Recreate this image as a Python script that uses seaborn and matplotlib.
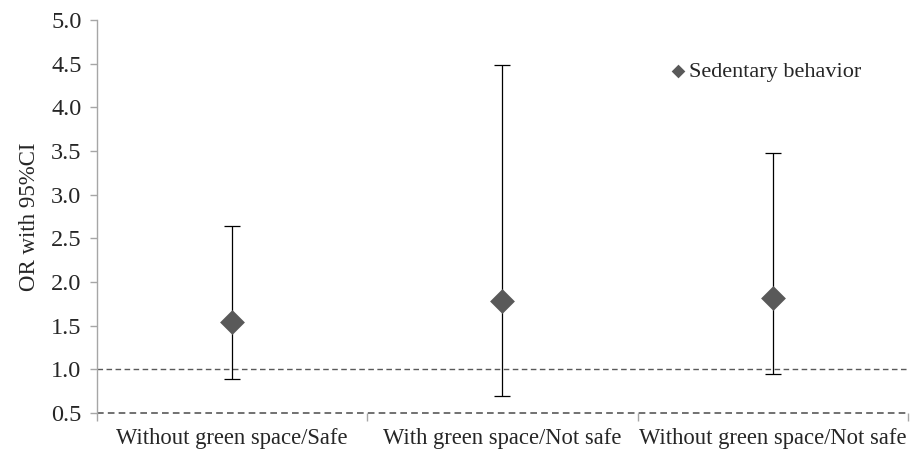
import matplotlib
matplotlib.use("Agg")
import matplotlib.pyplot as plt
import seaborn as sns
import pandas as pd
import numpy as np

categories = ["Without green space/Safe", "With green space/Not safe", "Without green space/Not safe"]
odds_ratio = [1.54, 1.78, 1.82]
ci_lower = [0.89, 0.70, 0.95]
ci_upper = [2.64, 4.49, 3.48]
series_name = "Sedentary behavior"
y_ticks = [0.5, 1.0, 1.5, 2.0, 2.5, 3.0, 3.5, 4.0, 4.5, 5.0]

sns.set_theme(style="white")
plt.rcParams['font.family'] = ['Liberation Serif', 'DejaVu Serif']

df = pd.DataFrame({"cat": categories, "OR": odds_ratio, "lo": ci_lower, "hi": ci_upper})

fig = plt.figure(figsize=(9.13, 4.58), dpi=100)
ax = fig.add_axes([0.106, 0.098, 0.8885, 0.858])

pos = np.arange(len(categories))
ax.errorbar(pos, df["OR"], yerr=[df["OR"] - df["lo"], df["hi"] - df["OR"]],
            fmt="none", ecolor="black", elinewidth=0.9, capsize=6, capthick=0.9, zorder=2)
sns.scatterplot(data=df, x="cat", y="OR", marker="D", s=160, color="#595959",
                edgecolor="#595959", linewidth=0, ax=ax, zorder=3, label=series_name)

ax.axhline(1.0, color="#595959", linestyle=(0, (4, 2.5)), linewidth=1.0, zorder=1)
ax.axhline(0.5, color="#595959", linestyle=(0, (4, 2.5)), linewidth=1.2, zorder=1, clip_on=False)

ax.set_xlim(-0.5, len(categories) - 0.5)
ax.set_ylim(0.5, 5.0)
ax.set_yticks(y_ticks)
ax.set_yticklabels([f"{v:.1f}" for v in y_ticks])
ax.set_xticks(pos)
ax.set_xticklabels(categories)
ax.set_xticks(np.arange(-0.5, len(categories), 1.0), minor=True)
ax.tick_params(axis="x", which="major", length=0, pad=11, labelsize=16.3, colors="#262626")
ax.tick_params(axis="x", which="minor", length=6, width=1, color="#a6a6a6", direction="out", bottom=True)
ax.tick_params(axis="y", which="major", length=5, width=1, color="#a6a6a6", direction="out",
               labelsize=17.5, labelcolor="#262626", left=True, pad=6)

for side in ["top", "right", "bottom"]:
    ax.spines[side].set_visible(False)
ax.spines["left"].set_color("#a6a6a6")
ax.spines["left"].set_linewidth(1)

ax.set_xlabel("")
ax.set_ylabel("OR with 95%CI", fontsize=16.5, color="#262626", labelpad=8)

leg = ax.legend(loc="center left", bbox_to_anchor=(0.703, 0.868), frameon=False, fontsize=16,
                handletextpad=0.0, markerscale=0.55, borderpad=0, borderaxespad=0, handlelength=1.0)
for t in leg.get_texts():
    t.set_color("#262626")

fig.savefig("out.png", dpi=100, facecolor="white")
